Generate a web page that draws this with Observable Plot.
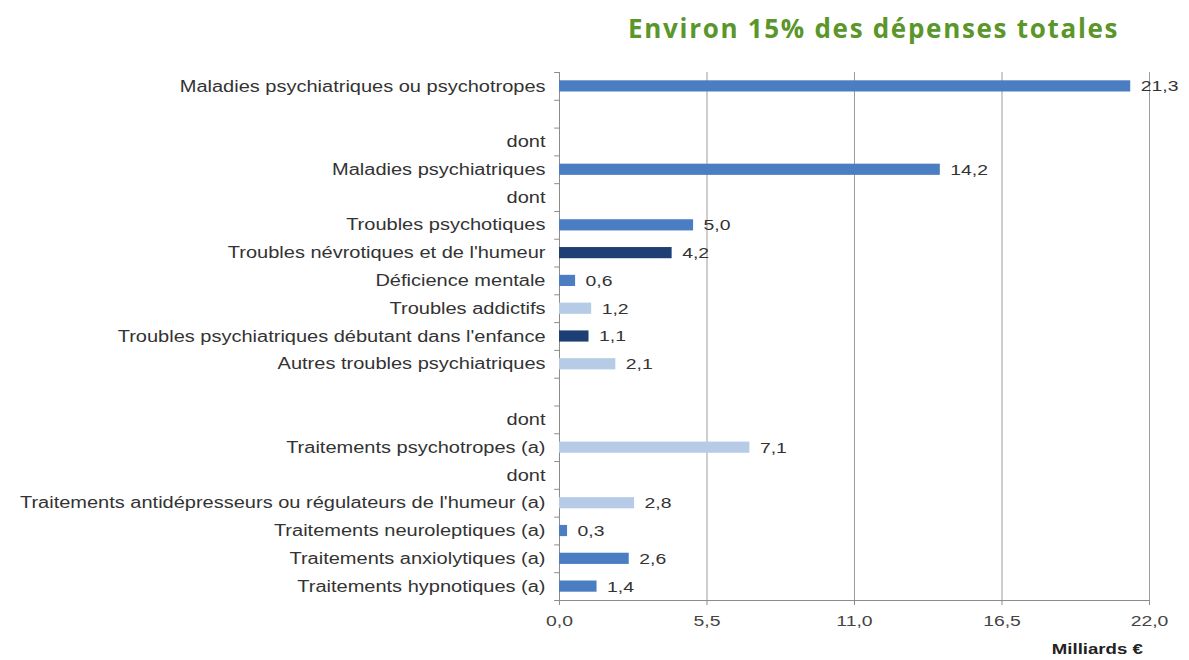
<!DOCTYPE html>
<html>
<head>
<meta charset="utf-8">
<script src="https://cdn.jsdelivr.net/npm/d3@7"></script>
<script src="https://cdn.jsdelivr.net/npm/@observablehq/plot@0.6"></script>
<style>
  body { margin: 0; background: #fff; }
  #wrap { position: relative; width: 1189px; height: 660px; }
  #title { height: 60px; box-sizing: border-box; padding-top: 10px; padding-left: 628px;
    font-family: "Open Sans", sans-serif; font-weight: 700; font-size: 26px; letter-spacing: 1.7px; color: #5a962a; white-space: nowrap; }
  #unit { position: absolute; right: 46px; top: 640px; font-family: "Liberation Sans", Arial, sans-serif;
    font-weight: 700; font-size: 15.5px; color: #222; transform: scaleX(1.2); transform-origin: right center; }
</style>
</head>
<body>
<div id="wrap">
  <div id="title">Environ 15% des dépenses totales</div>
  <div id="chart"></div>
  <div id="unit">Milliards €</div>
</div>
<script>
const labels = [
  "Maladies psychiatriques ou psychotropes",
  "",
  "dont",
  "Maladies psychiatriques",
  "dont",
  "Troubles psychotiques",
  "Troubles névrotiques et de l'humeur",
  "Déficience mentale",
  "Troubles addictifs",
  "Troubles psychiatriques débutant dans l'enfance",
  "Autres troubles psychiatriques",
  "",
  "dont",
  "Traitements psychotropes (a)",
  "dont",
  "Traitements antidépresseurs ou régulateurs de l'humeur (a)",
  "Traitements neuroleptiques (a)",
  "Traitements anxiolytiques (a)",
  "Traitements hypnotiques (a)"
];
const values = [21.3, null, null, 14.2, null, 5.0, 4.2, 0.6, 1.2, 1.1, 2.1, null, null, 7.1, null, 2.8, 0.3, 2.6, 1.4];
const shades = ["mid", null, null, "mid", null, "mid", "dark", "mid", "light", "dark", "light", null, null, "light", null, "light", "mid", "mid", "mid"];
const xTicks = [0, 5.5, 11, 16.5, 22];
const shadeColors = {mid: "#4a7dc1", dark: "#1e3f74", light: "#b6cbe6"};

const rows = labels.map((label, i) => ({id: i, label, value: values[i], shade: shades[i]}));
const barsData = rows.filter(d => d.value != null);

const W = 1189, H = 600, mT = 12, mB = 60, mL = 559, mR = 40;
const step = (H - mT - mB) / labels.length;
const fmt = v => v.toFixed(1).replace(".", ",");
const font = "Liberation Sans, Arial, sans-serif";

const chart = Plot.plot({
  width: W, height: H,
  marginTop: mT, marginBottom: mB, marginLeft: mL, marginRight: mR,
  style: {fontFamily: font, color: "#333", background: "#fff"},
  x: {domain: [0, 22], ticks: xTicks, tickFormat: fmt, label: null},
  y: {domain: rows.map(d => d.id), padding: 0, round: false, tickFormat: i => labels[i], label: null},
  marks: [
    Plot.gridX(xTicks.slice(1), {stroke: "#9d9d9d", strokeOpacity: 1}),
    Plot.ruleX([0], {stroke: "#8c8c8c"}),
    Plot.ruleY(rows, {y: "id", dy: -step / 2, x1: -0.18, x2: 0, stroke: "#8c8c8c"}),
    Plot.ruleY(rows.slice(-1), {y: "id", dy: step / 2, x1: -0.18, x2: 22, stroke: "#8c8c8c"}),
    Plot.barX(barsData, {y: "id", x: "value", fill: d => shadeColors[d.shade], insetTop: 8.3, insetBottom: 8.3}),
    Plot.text(barsData, {y: "id", x: "value", text: d => fmt(d.value), dx: 10, textAnchor: "start", fontSize: 15.5, fill: "#333"}),
    Plot.axisY({tickSize: 0, tickPadding: 14, fontSize: 16, fill: "#333", tickFormat: i => labels[i], label: null}),
    Plot.axisX({ticks: xTicks, tickFormat: fmt, tickSize: 5, tickPadding: 9, fontSize: 15.5, fill: "#444", stroke: "#8c8c8c", label: null})
  ]
});
document.getElementById("chart").appendChild(chart);

// the reference's text is horizontally widened: stretch glyphs accordingly
const stretch = 1.25;
chart.querySelectorAll("text").forEach(t => {
  const w = t.getComputedTextLength();
  if (w > 0) {
    t.setAttribute("textLength", (w * stretch).toFixed(2));
    t.setAttribute("lengthAdjust", "spacingAndGlyphs");
  }
});
</script>
</body>
</html>
